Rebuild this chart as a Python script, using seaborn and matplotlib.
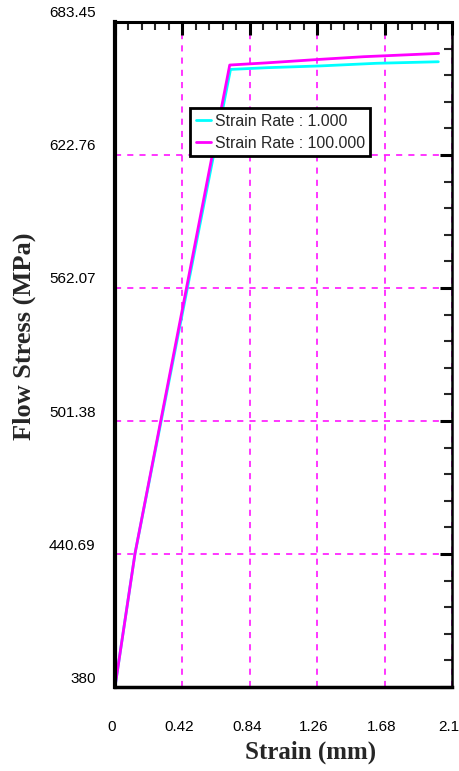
import pandas as pd
import matplotlib.pyplot as plt
import matplotlib.transforms as mtransforms
from matplotlib.ticker import AutoMinorLocator
import seaborn as sns

# Data
strain_1 = [0.0, 0.125, 0.72, 0.95, 1.28, 1.63, 2.015]
stress_1 = [380.0, 441.0, 661.8, 662.6, 663.4, 664.6, 665.3]
strain_100 = [0.0, 0.125, 0.715, 0.946, 1.279, 1.549, 2.017]
stress_100 = [380.0, 441.0, 663.8, 664.8, 666.4, 667.6, 669.1]

labels = ["Strain Rate : 1.000", "Strain Rate : 100.000"]
colors = ["#00FFFF", "#FF00FF"]

xticks = [0, 0.42, 0.84, 1.26, 1.68, 2.1]
xtick_labels = ["0", "0.42", "0.84", "1.26", "1.68", "2.1"]
yticks = [380, 440.69, 501.38, 562.07, 622.76, 683.45]
ytick_labels = ["380", "440.69", "501.38", "562.07", "622.76", "683.45"]

df = pd.concat([
    pd.DataFrame({"strain": strain_1, "stress": stress_1, "series": labels[0]}),
    pd.DataFrame({"strain": strain_100, "stress": stress_100, "series": labels[1]}),
])

sns.set_style("white")
plt.rcParams["font.family"] = ["Liberation Sans", "DejaVu Sans"]

fig = plt.figure(figsize=(4.59, 7.71), dpi=100)
ax = fig.add_axes([0.2505, 0.1089, 0.7342, 0.8626])

sns.lineplot(data=df, x="strain", y="stress", hue="series", palette=colors,
             sort=False, estimator=None, linewidth=2, ax=ax)

ax.set_xlim(0, 2.1)
ax.set_ylim(380, 683.45)
ax.set_xticks(xticks)
ax.set_xticklabels(xtick_labels)
ax.set_yticks(yticks)
ax.set_yticklabels(ytick_labels)
ax.xaxis.set_minor_locator(AutoMinorLocator(5))
ax.yaxis.set_minor_locator(AutoMinorLocator(5))

ax.grid(True, which="major", color="#FF00FF", linestyle=(0, (4, 4)), linewidth=1.1)
ax.tick_params(which="major", direction="in", length=9, width=2.2,
               top=True, right=True, labelsize=11, colors="black")
ax.tick_params(which="minor", direction="in", length=5.5, width=1.5,
               top=True, right=True)
ax.tick_params(axis="x", which="major", pad=24)
ax.tick_params(axis="y", which="major", pad=14)

# y tick labels sit a little above their ticks
shift = mtransforms.ScaledTranslation(0, 0.10, fig.dpi_scale_trans)
for lab in ax.get_yticklabels():
    lab.set_transform(lab.get_transform() + shift)
shiftx = mtransforms.ScaledTranslation(-0.03, 0, fig.dpi_scale_trans)
for lab in ax.get_xticklabels():
    lab.set_transform(lab.get_transform() + shiftx)

for side, lw in [("left", 3), ("bottom", 2.5), ("top", 2.2), ("right", 1.8)]:
    ax.spines[side].set_color("black")
    ax.spines[side].set_linewidth(lw)

ax.set_xlabel("Strain (mm)", family="Liberation Serif", fontweight="bold", fontsize=18)
ax.set_ylabel("Flow Stress (MPa)", family="Liberation Serif", fontweight="bold", fontsize=19)
ax.xaxis.set_label_coords(0.58, -0.08)
ax.yaxis.set_label_coords(-0.235, 0.527)

leg = ax.legend(loc="upper left", bbox_to_anchor=(0.2226, 0.8707), fontsize=11.4,
                frameon=True, fancybox=False, edgecolor="black", framealpha=1,
                handlelength=1.0, handletextpad=0.2, borderpad=0.35,
                labelspacing=0.45, borderaxespad=0)
leg.get_frame().set_linewidth(2)

fig.savefig("out.png", dpi=100)
